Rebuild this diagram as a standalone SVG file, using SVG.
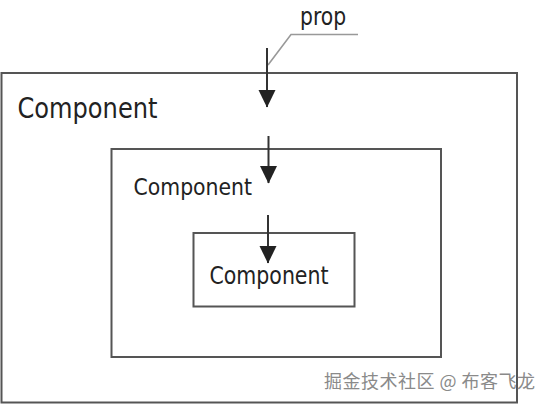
<svg xmlns="http://www.w3.org/2000/svg" width="548" height="404" viewBox="0 0 548 404">
  <style>
    .box { fill: none; stroke: #555555; stroke-width: 2; }
    .label { font-family: 'DejaVu Sans Condensed', 'DejaVu Sans', sans-serif; font-stretch: condensed; fill: #222222; }
    .flow { stroke: #333333; stroke-width: 2; fill: none; }
    .callout { stroke: #999999; stroke-width: 1.6; fill: none; }
    .mark { font-family: 'Noto Sans CJK SC', sans-serif; font-size: 18px; letter-spacing: 0.5px; fill: #8a8a8a; }
  </style>
  <defs>
    <marker id="arrow" markerUnits="userSpaceOnUse" markerWidth="18" markerHeight="18" viewBox="0 0 18 18" refX="17" refY="9" orient="auto">
      <path d="M0,0.5 L17.5,9 L0,17.5 Z" fill="#222222"/>
    </marker>
  </defs>
  <rect width="548" height="404" fill="#ffffff"/>

  <g id="outer-component">
    <rect class="box" x="1.5" y="73" width="515.5" height="329.5"/>
    <text class="label" transform="translate(17.5,117.5) scale(1,1.06)" font-size="26.8">Component</text>
  </g>

  <g id="middle-component">
    <rect class="box" x="111.5" y="149" width="329.5" height="208"/>
    <text class="label" transform="translate(133.5,194.5) scale(1,1.05)" font-size="22.7">Component</text>
  </g>

  <g id="inner-component">
    <rect class="box" x="193.5" y="233" width="161" height="73.5"/>
    <text class="label" transform="translate(209.5,284) scale(1,1.05)" font-size="22.8">Component</text>
  </g>

  <g id="prop-label">
    <polyline class="callout" points="268,65 291,34.5 358,34.5"/>
    <text class="label" transform="translate(300,24.5) scale(1,1.08)" font-size="22.6">prop</text>
  </g>

  <g id="connectors">
    <line class="flow" x1="267" y1="48" x2="267" y2="107" marker-end="url(#arrow)"/>
    <line class="flow" x1="268.5" y1="136" x2="268.5" y2="183" marker-end="url(#arrow)"/>
    <line class="flow" x1="268" y1="215" x2="268" y2="263" marker-end="url(#arrow)"/>
  </g>

  <text class="mark" x="324" y="387.5">掘金技术社区 @ 布客飞龙</text>
</svg>
